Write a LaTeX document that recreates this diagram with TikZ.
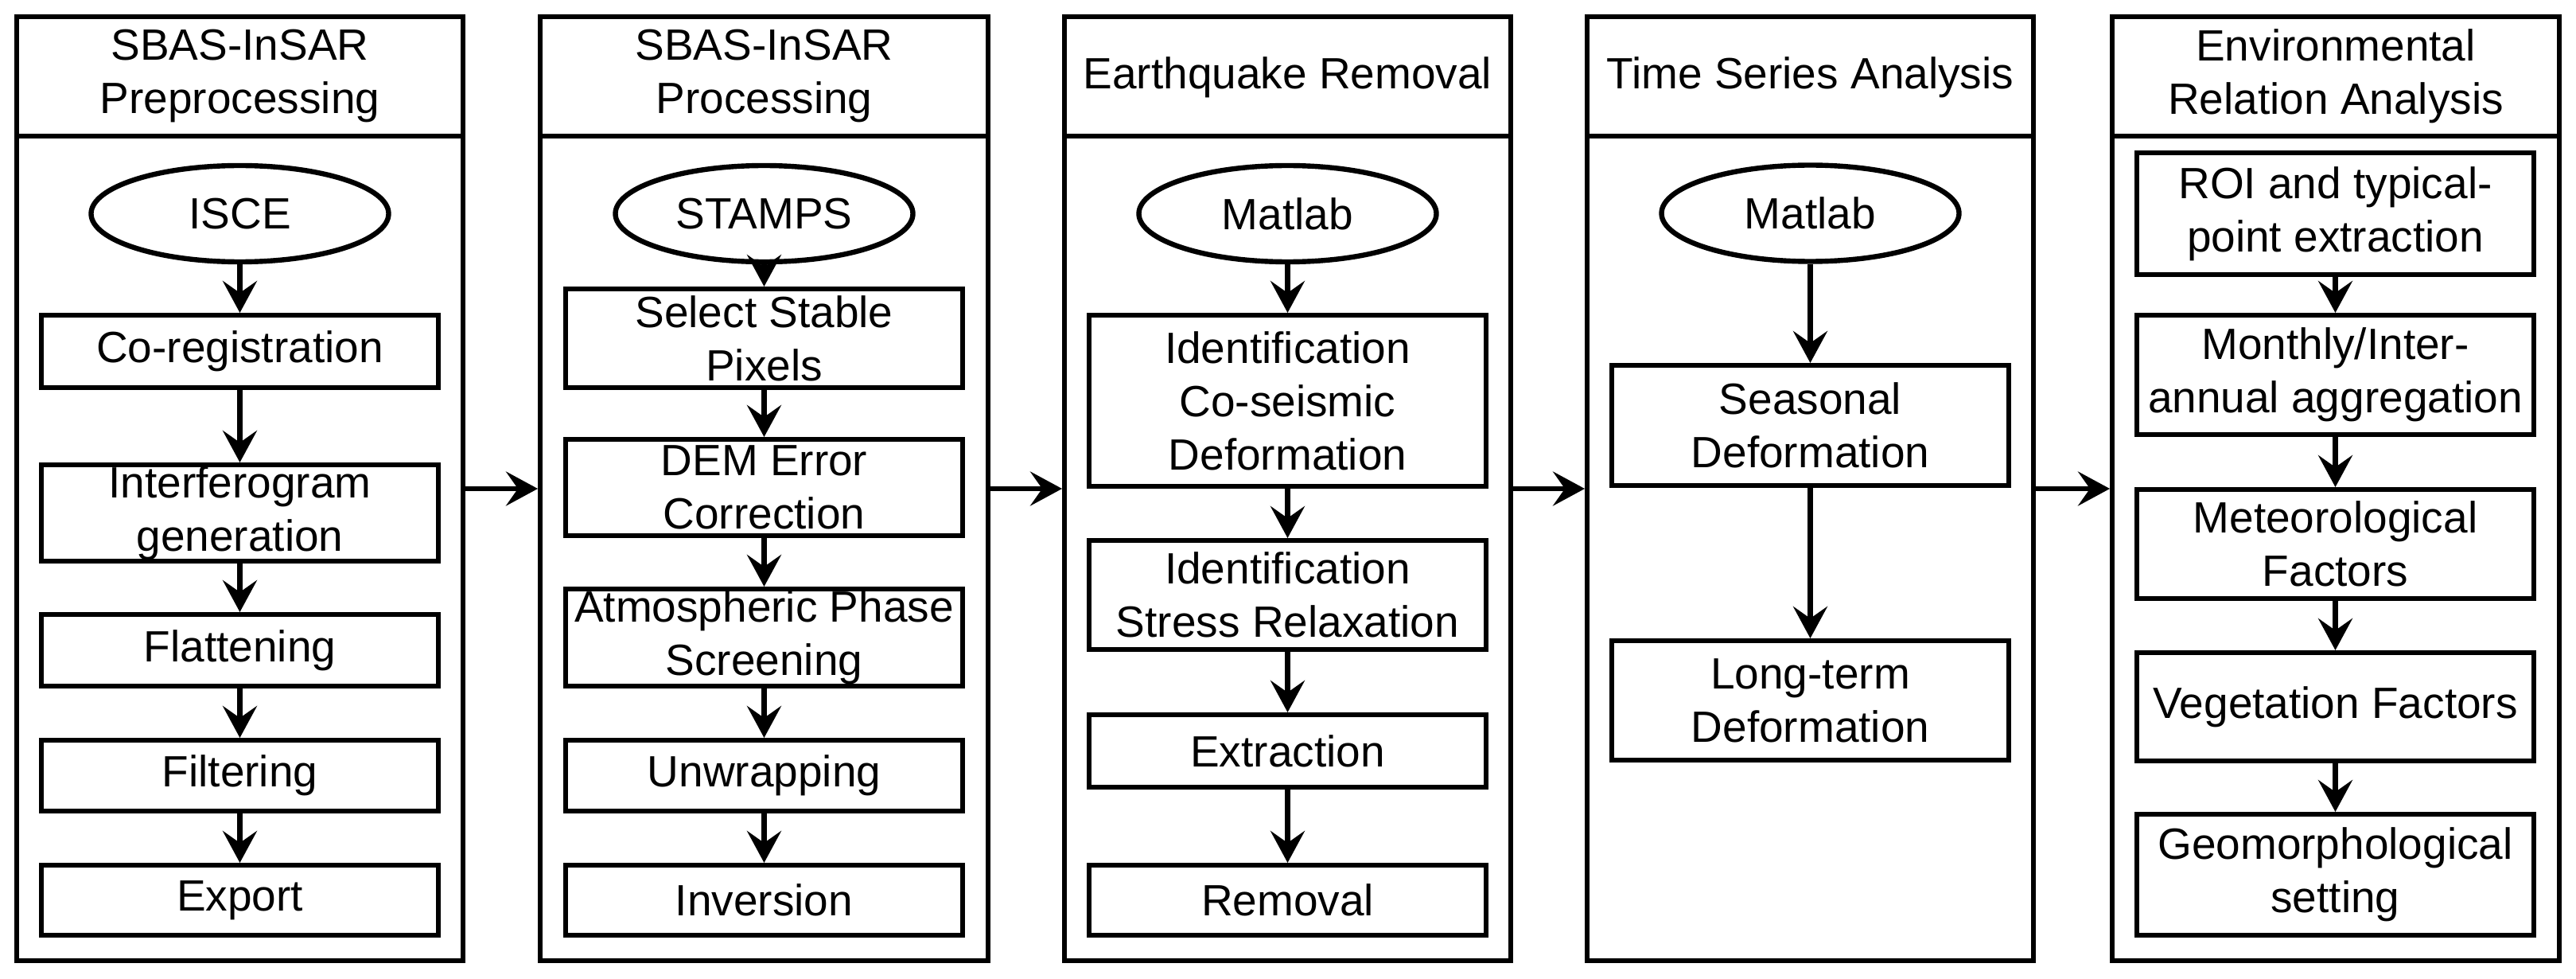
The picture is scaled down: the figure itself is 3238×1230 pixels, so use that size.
\documentclass[tikz,border=0pt]{standalone}
\usepackage{fontspec}
\setmainfont{Liberation Sans}
\usetikzlibrary{arrows.meta,shapes.geometric}
\newcommand\mkbox[6]{\node[stepbox, minimum width={(#4-#2-6.4)*0.25pt}, minimum height={(#5-#3-6.4)*0.25pt}] (#1) at ({(#2+#4)/2},{(#3+#5)/2}) {#6};}
\newcommand\mkpanel[3]{\node[panelbox, minimum width={(#3-#2-6.4)*0.25pt}] (#1) at ({(#2+#3)/2},614) {};
\draw[sepline] ([yshift=-38.25pt]#1.north west) -- ([yshift=-38.25pt]#1.north east);}
\begin{document}
\begin{tikzpicture}[x=0.25pt,y=-0.25pt,
  txt/.style={font=\fontsize{13.75}{16.75}\selectfont, align=center, inner sep=0pt},
  stepbox/.style={txt, draw, line width=1.6pt, rectangle},
  tool/.style={txt, draw, line width=1.6pt, ellipse, minimum width={374*0.25pt}, minimum height={121*0.25pt}},
  panelbox/.style={draw, line width=1.6pt, rectangle, inner sep=0pt, minimum height={(1192-6.4)*0.25pt}},
  sepline/.style={line width=1.6pt},
  tipshape/.style={-{Stealth[length=10pt, width=10.75pt, inset=3.75pt]}},
  varrow/.style={line width=1.6pt, tipshape},
  harrow/.style={line width=1.4pt, tipshape}
]
\fill[white] (0,0) rectangle (3238,1230);
\useasboundingbox (0,0) rectangle (3238,1230);

% panels
\mkpanel{p1}{18}{585}
\mkpanel{p2}{676}{1245}
\mkpanel{p3}{1335}{1902}
\mkpanel{p4}{1992}{2559}
\mkpanel{p5}{2652}{3220}

% headers
\node[txt] (h1) at (301.5,96) {SBAS-InSAR\\Preprocessing};
\node[txt] (h2) at (960.5,96) {SBAS-InSAR\\Processing};
\node[txt] (h3) at (1618.5,97) {Earthquake Removal};
\node[txt] (h4) at (2275.5,97) {Time Series Analysis};
\node[txt] (h5) at (2936,96) {Environmental\\Relation Analysis};

% panel 1
\node[tool] (e1) at (301.5,268.5) {ISCE};
\mkbox{a1}{49}{393}{554}{490}{Co-registration}
\mkbox{a2}{49}{581}{554}{708}{Interferogram\\generation}
\mkbox{a3}{49}{769}{554}{865}{Flattening}
\mkbox{a4}{49}{927}{554}{1022}{Filtering}
\mkbox{a5}{49}{1084}{554}{1178}{Export}
\draw[varrow] (e1.south) -- (a1.north);
\draw[varrow] (a1.south) -- (a2.north);
\draw[varrow] (a2.south) -- (a3.north);
\draw[varrow] (a3.south) -- (a4.north);
\draw[varrow] (a4.south) -- (a5.north);

% panel 2
\node[tool] (e2) at (960.5,268.5) {STAMPS};
\mkbox{b1}{708}{360}{1213}{490}{Select Stable\\Pixels}
\mkbox{b2}{708}{549}{1213}{676}{DEM Error\\Correction}
\mkbox{b3}{708}{737}{1213}{865}{Atmospheric Phase\\Screening}
\mkbox{b4}{708}{927}{1213}{1022}{Unwrapping}
\mkbox{b5}{708}{1084}{1213}{1178}{Inversion}
\draw[varrow] (e2.south) -- (b1.north);
\draw[varrow] (b1.south) -- (b2.north);
\draw[varrow] (b2.south) -- (b3.north);
\draw[varrow] (b3.south) -- (b4.north);
\draw[varrow] (b4.south) -- (b5.north);

% panel 3
\node[tool] (e3) at (1618.5,268.5) {Matlab};
\mkbox{c1}{1366}{393}{1871}{614}{Identification\\Co-seismic\\Deformation}
\mkbox{c2}{1366}{676}{1871}{819}{Identification\\Stress Relaxation}
\mkbox{c3}{1366}{895}{1871}{992}{Extraction}
\mkbox{c4}{1366}{1084}{1871}{1178}{Removal}
\draw[varrow] (e3.south) -- (c1.north);
\draw[varrow] (c1.south) -- (c2.north);
\draw[varrow] (c2.south) -- (c3.north);
\draw[varrow] (c3.south) -- (c4.north);

% panel 4
\node[tool] (e4) at (2275.5,268) {Matlab};
\mkbox{d1}{2023}{456}{2528}{613}{Seasonal\\Deformation}
\mkbox{d2}{2023}{802}{2528}{958}{Long-term\\Deformation}
\draw[varrow] (e4.south) -- (d1.north);
\draw[varrow] (d1.south) -- (d2.north);

% panel 5
\mkbox{f1}{2683}{189}{3188}{348}{ROI and typical-\\point extraction}
\mkbox{f2}{2683}{393}{3188}{549}{Monthly/Inter-\\annual aggregation}
\mkbox{f3}{2683}{612}{3188}{755}{Meteorological\\Factors}
\mkbox{f4}{2683}{817}{3188}{959}{Vegetation Factors}
\mkbox{f5}{2683}{1020}{3188}{1178}{Geomorphological\\setting}
\draw[varrow] (f1.south) -- (f2.north);
\draw[varrow] (f2.south) -- (f3.north);
\draw[varrow] (f3.south) -- (f4.north);
\draw[varrow] (f4.south) -- (f5.north);

% inter-panel arrows
\draw[harrow] (p1.east) -- (p2.west);
\draw[harrow] (p2.east) -- (p3.west);
\draw[harrow] (p3.east) -- (p4.west);
\draw[harrow] (p4.east) -- (p5.west);
\end{tikzpicture}
\end{document}
